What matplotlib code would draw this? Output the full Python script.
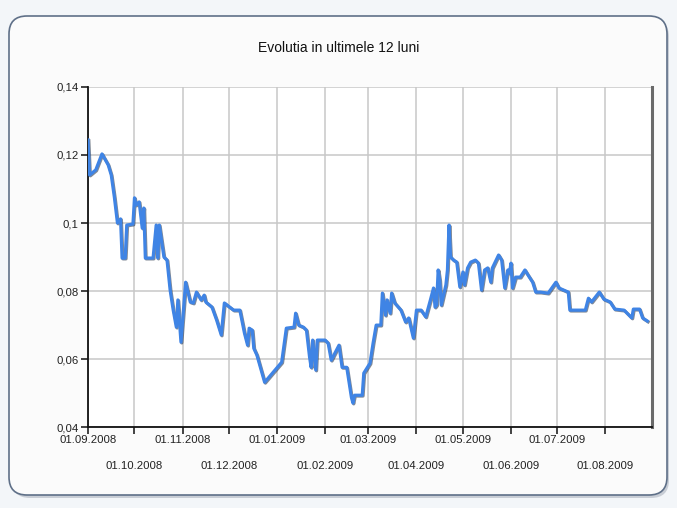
import numpy as np
import matplotlib.pyplot as plt
import matplotlib.patheffects as pe
from matplotlib.patches import FancyBboxPatch
from matplotlib.transforms import IdentityTransform

plt.rcParams['font.family'] = ['Liberation Sans', 'DejaVu Sans']

# date de baza
start = np.datetime64('2008-09-01')
day_offsets = [0, 1, 5, 9, 13, 15, 17, 19, 21, 22, 24, 25, 29, 30, 31, 33, 35, 36, 37, 42,
               44, 45, 46, 49, 51, 53, 55, 57, 58, 60, 63, 66, 68, 70, 73, 75, 76, 80, 83, 86,
               88, 94, 98, 101, 103, 104, 106, 107, 109, 114, 125, 128, 133, 134, 136, 139, 141, 143, 144, 145,
               147, 148, 153, 155, 157, 162, 164, 167, 170, 171, 172, 177, 178, 182, 184, 186, 189, 190, 192, 193,
               195, 196, 198, 202, 205, 207, 210, 212, 215, 218, 221, 223, 224, 225, 226, 227, 228, 231, 232, 233,
               234, 236, 238, 240, 242, 243, 245, 247, 250, 252, 254, 256, 258, 260, 261, 265, 267, 269, 271, 272,
               273, 274, 276, 279, 282, 284, 287, 289, 292, 297, 302, 304, 310, 311, 321, 323, 325, 330, 333, 337,
               340, 346, 351, 352, 356, 358, 361]
values = [0.1244, 0.1141, 0.1156, 0.1203, 0.1171, 0.1141, 0.1076, 0.1000, 0.1012, 0.0897, 0.0897, 0.0994, 0.0997, 0.1074, 0.1053, 0.1062, 0.0985, 0.1044, 0.0897, 0.0897,
          0.0994, 0.0897, 0.0994, 0.0900, 0.0891, 0.0803, 0.0744, 0.0694, 0.0774, 0.0650, 0.0826, 0.0768, 0.0765, 0.0797, 0.0774, 0.0788, 0.0768, 0.0753, 0.0715, 0.0671,
          0.0765, 0.0744, 0.0744, 0.0676, 0.0641, 0.0691, 0.0685, 0.0632, 0.0612, 0.0532, 0.0591, 0.0691, 0.0694, 0.0735, 0.0700, 0.0694, 0.0685, 0.0606, 0.0576, 0.0656,
          0.0568, 0.0656, 0.0656, 0.0647, 0.0597, 0.0641, 0.0576, 0.0576, 0.0488, 0.0471, 0.0494, 0.0494, 0.0559, 0.0588, 0.0647, 0.0700, 0.0700, 0.0794, 0.0729, 0.0774,
          0.0735, 0.0794, 0.0765, 0.0744, 0.0709, 0.0721, 0.0662, 0.0744, 0.0744, 0.0724, 0.0774, 0.0809, 0.0753, 0.0759, 0.0862, 0.0832, 0.0759, 0.0818, 0.0862, 0.0994,
          0.0900, 0.0891, 0.0885, 0.0812, 0.0856, 0.0818, 0.0868, 0.0885, 0.0891, 0.0882, 0.0803, 0.0862, 0.0868, 0.0826, 0.0868, 0.0906, 0.0891, 0.0809, 0.0862, 0.0853,
          0.0882, 0.0809, 0.0841, 0.0841, 0.0862, 0.0847, 0.0826, 0.0797, 0.0797, 0.0794, 0.0826, 0.0809, 0.0797, 0.0744, 0.0744, 0.0779, 0.0768, 0.0797, 0.0776, 0.0768,
          0.0747, 0.0744, 0.0721, 0.0747, 0.0747, 0.0721, 0.0712]

dates = start + np.array(day_offsets).astype('timedelta64[D]')

# etichete axa x (randul de sus / randul de jos)
top_ticks = ['2008-09-01', '2008-11-01', '2009-01-01', '2009-03-01', '2009-05-01', '2009-07-01']
top_labels = ['01.09.2008', '01.11.2008', '01.01.2009', '01.03.2009', '01.05.2009', '01.07.2009']
bottom_ticks = ['2008-10-01', '2008-12-01', '2009-02-01', '2009-04-01', '2009-06-01', '2009-08-01']
bottom_labels = ['01.10.2008', '01.12.2008', '01.02.2009', '01.04.2009', '01.06.2009', '01.08.2009']

y_ticks = [0.04, 0.06, 0.08, 0.10, 0.12, 0.14]
y_labels = ['0,04', '0,06', '0,08', '0,1', '0,12', '0,14']

fig = plt.figure(figsize=(6.77, 5.08), dpi=100)
fig.patch.set_facecolor('#f3f6f9')

# panoul rotunjit
shadow = FancyBboxPatch((12, 10), 657, 479, boxstyle='round,pad=0,rounding_size=18',
                        transform=IdentityTransform(), facecolor='#c9ced6', edgecolor='none', zorder=-3)
panel = FancyBboxPatch((9, 13), 658, 479, boxstyle='round,pad=0,rounding_size=18',
                       transform=IdentityTransform(), facecolor='#fbfbfb', edgecolor='#5f7088', lw=1.2, zorder=-2)
fig.patches.extend([shadow, panel])

ax = fig.add_axes([0.130, 0.159, 0.833, 0.670])
ax.set_facecolor('white')

ax.plot(dates, values, color='#3f84e5', lw=2.3, solid_joinstyle='round',
        path_effects=[pe.SimpleLineShadow(offset=(0.6, -0.6), shadow_color='#1a2a40', alpha=0.55),
                      pe.Normal()], zorder=3)

ax.set_xlim(np.datetime64('2008-09-01'), np.datetime64('2009-08-31'))
ax.set_ylim(0.04, 0.14)

ax.set_xticks(np.array(top_ticks, dtype='datetime64[D]'), top_labels)
ax.set_xticks(np.array(bottom_ticks, dtype='datetime64[D]'), bottom_labels, minor=True)
ax.set_yticks(y_ticks, y_labels)

ax.tick_params(axis='x', which='major', length=5, width=1.2, pad=0.5, labelsize=8.2, colors='#222222')
ax.tick_params(axis='x', which='minor', length=5, width=1.2, pad=19, labelsize=8.2, colors='#222222')
ax.tick_params(axis='y', length=5, width=1.2, pad=2, labelsize=8.2, colors='#222222')

ax.grid(True, which='both', axis='x', color='#c8c8c8', lw=1.1)
ax.grid(True, which='major', axis='y', color='#c8c8c8', lw=1.1)
ax.set_axisbelow(True)

ax.spines['top'].set_visible(False)
ax.spines['left'].set_color('#111111')
ax.spines['left'].set_linewidth(1.3)
ax.spines['bottom'].set_color('#111111')
ax.spines['bottom'].set_linewidth(1.3)
ax.spines['right'].set_color('#6a6a6a')
ax.spines['right'].set_linewidth(2.2)

fig.text(0.5, 0.905, 'Evolutia in ultimele 12 luni', ha='center', va='center',
         fontsize=10, color='#111111')

plt.savefig('out.png', dpi=100, facecolor=fig.get_facecolor())
